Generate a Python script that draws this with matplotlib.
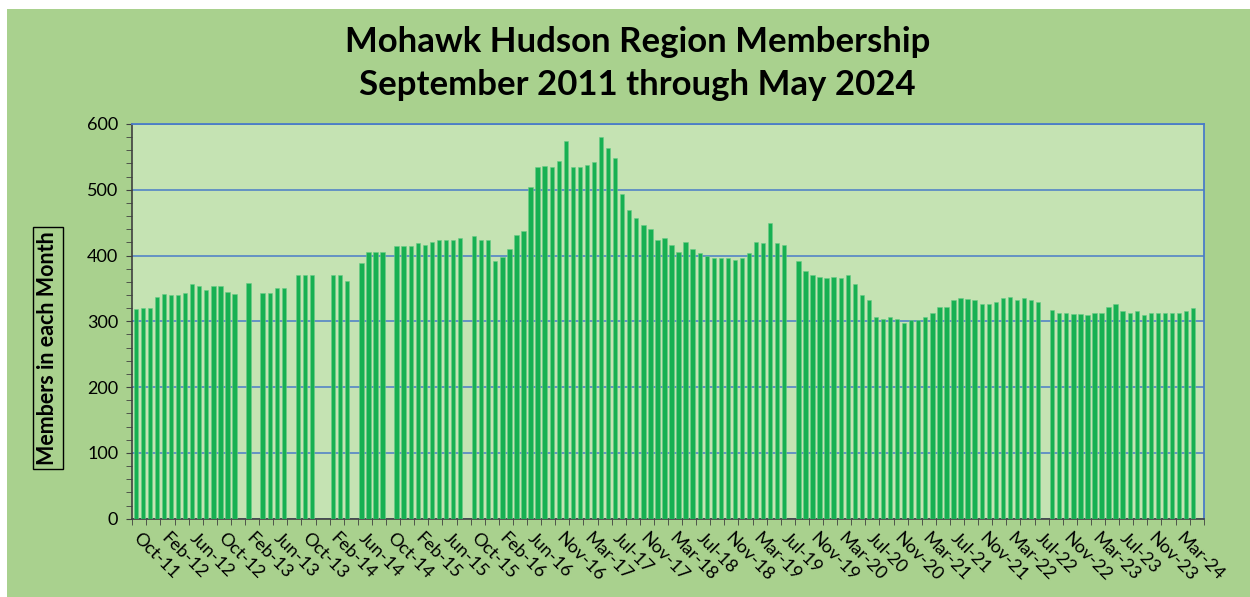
import numpy as np
import pandas as pd
import matplotlib
matplotlib.use("Agg")
import matplotlib.pyplot as plt
from matplotlib.patches import Rectangle

# --------------------------
# 1. DATA
# --------------------------
# monthly categories Oct-11 .. Jun-24 (one 2016 month absent from the sheet)
months = pd.date_range("2011-10-01", "2024-06-01", freq="MS")
months = months[months != pd.Timestamp("2016-08-01")]
month_labels = [m.strftime("%b-%y") for m in months]

# members per month (None = no report for that month)
members = [
    319, 320, 320, 337, 342, 340, 340, 343, 356, 353, 347, 353, 353, 344, 342,
    None, 358, None, 343, 343, 350, 350, None, 371, 371, 371, None, None,
    370, 370, 361, None, 389, 406, 406, 405, None,
    415, 415, 415, 419, 416, 420, 424, 424, 424, 426, None,
    430, 424, 424, 392, 398, 410, 431, 437, 504, 535, 536, 534, 543, 574,
    535, 535, 538, 542, 580, 564, 549, 494, 469, 457, 447, 441, 424, 426, 416,
    405, 420, 410, 404, 400, 397, 396, 396, 393, 396, 404, 420, 419, 449,
    419, 416, None,
    392, 376, 371, 368, 366, 368, 366, 370, 357, 340, 332, 306, 303, 306,
    303, 297, 302, 302, 306, 312, 322, 322, 332, 336, 334, 333, 327, 327,
    330, 336, 337, 332, 336, 333, 330, None,
    317, 313, 313, 311, 311, 309, 312, 313, 322, 327, 316, 313, 315, 310,
    313, 313, 313, 313, 313, 315, 320, None,
]

title_lines = ["Mohawk Hudson Region Membership", "September 2011 through May 2024"]
y_label = "Members in each Month"

# --------------------------
# 2. PLOT
# --------------------------
plt.rcParams["font.family"] = ["Lato", "DejaVu Sans"]

outer_green = "#A9D18E"
plot_green = "#C5E3B3"
bar_green = "#17B052"
grid_blue = "#4A7CC8"

fig = plt.figure(figsize=(12.5, 5.97), dpi=100, facecolor="white")
fig.patches.append(Rectangle((7 / 1250, 0), 1 - 7 / 1250, 1 - 9 / 597,
                             transform=fig.transFigure, facecolor=outer_green,
                             edgecolor="none", zorder=-10))

ax = fig.add_axes([0.1058, 0.1312, 0.9630 - 0.1058, 0.7923 - 0.1312])
ax.set_facecolor(plot_green)

x = np.arange(len(month_labels))
heights = np.array([np.nan if v is None else v for v in members], dtype=float)
ax.bar(x, heights, width=0.62, color=bar_green, edgecolor="#6BCB86",
       linewidth=0.4, zorder=3)

ax.set_xlim(-0.5, len(month_labels) - 0.5)
ax.set_ylim(0, 600)

# y axis: labels every 100, small ticks every 20
ax.set_yticks(np.arange(0, 601, 100))
ax.set_yticks(np.arange(0, 601, 20), minor=True)
ax.tick_params(axis="y", which="both", direction="out", length=4,
               color="#404040", labelsize=13, pad=6)
ax.yaxis.grid(True, color=grid_blue, linewidth=1.1, zorder=1)

# x axis: label every 4th month, tick marks between every 2 months
label_pos = x[::4]
ax.set_xticks(label_pos)
ax.set_xticklabels([month_labels[i] for i in label_pos], rotation=-45,
                   ha="left", va="center", rotation_mode="anchor", fontsize=13)
ax.set_xticks(np.arange(-0.5, len(month_labels), 2), minor=True)
ax.tick_params(axis="x", which="major", length=0, pad=12)
ax.tick_params(axis="x", which="minor", direction="out", length=4,
               color="#404040")

for side in ("left", "bottom"):
    ax.spines[side].set_color("#404040")
    ax.spines[side].set_linewidth(1.2)
ax.spines["right"].set_color(grid_blue)
ax.spines["right"].set_linewidth(1.3)
ax.spines["top"].set_color(grid_blue)
ax.spines["top"].set_linewidth(1.3)

# title (two lines)
fig.text(0.51, 1 - 42 / 597, title_lines[0], ha="center", va="center",
         fontsize=25, fontweight="bold")
fig.text(0.51, 1 - 85 / 597, title_lines[1], ha="center", va="center",
         fontsize=25, fontweight="bold")

# boxed y label
fig.text(48 / 1250, 1 - 348 / 597, y_label, rotation=90, ha="center",
         va="center", fontsize=15.5, fontweight="bold",
         bbox=dict(boxstyle="square,pad=0.2", facecolor="none",
                   edgecolor="black", linewidth=1))

fig.savefig("out.png", dpi=100, facecolor=fig.get_facecolor())
